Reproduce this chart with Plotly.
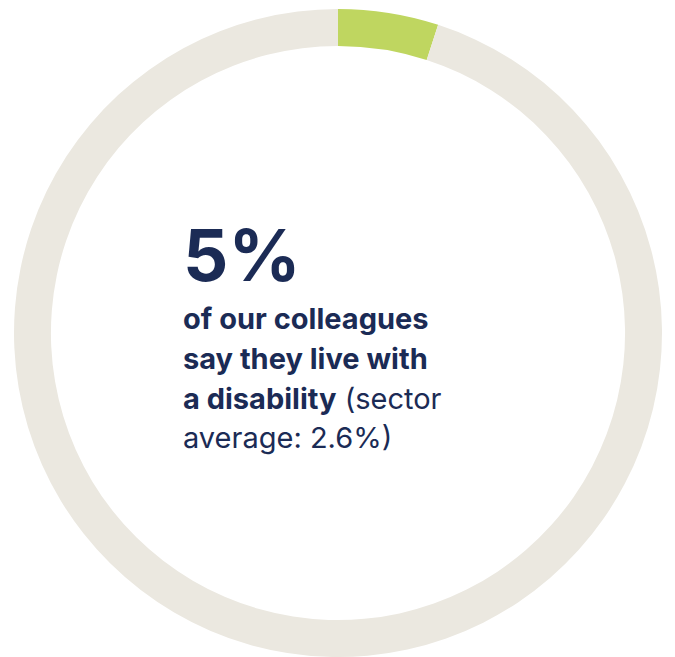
import plotly.graph_objects as go

labels = ["Live with a disability", "Other colleagues"]
values = [5, 95]
colors = ["#BFD660", "#EBE8E0"]
headline = "5%"
sector_average = "2.6%"

W, H = 675, 657
NAVY = "#1B2B55"

fig = go.Figure(go.Pie(
    labels=labels,
    values=values,
    hole=0.886,
    sort=False,
    direction="clockwise",
    rotation=0,
    marker=dict(colors=colors, line=dict(width=0)),
    textinfo="none",
    hoverinfo="skip",
    showlegend=False,
    domain=dict(x=[13 / W, 663 / W], y=[0, 1 - 9 / H]),
))

left = 181 / W
lines = [
    ("<b>of our colleagues</b>", 330),
    ("<b>say they live with</b>", 370),
    (f"<b>a disability</b> (sector", 410),
    (f"average: {sector_average})", 449),
]

annotations = [dict(
    text=f"<b>{headline}</b>", x=left, y=1 - 282 / H, xref="paper", yref="paper",
    xanchor="left", yanchor="bottom", showarrow=False,
    font=dict(family="Inter", size=71, color=NAVY, weight=900),
    yshift=-18,
)]
for txt, base in lines:
    annotations.append(dict(
        text=txt, x=left, y=1 - base / H, xref="paper", yref="paper",
        xanchor="left", yanchor="bottom", showarrow=False,
        font=dict(family="Inter", size=29, color=NAVY),
        yshift=-8,
    ))

fig.update_layout(
    width=W, height=H,
    margin=dict(l=0, r=0, t=0, b=0),
    paper_bgcolor="white", plot_bgcolor="white",
    annotations=annotations,
)

fig.write_html("out.html", config={"displayModeBar": False},
               post_script="document.body.style.margin='0';")
